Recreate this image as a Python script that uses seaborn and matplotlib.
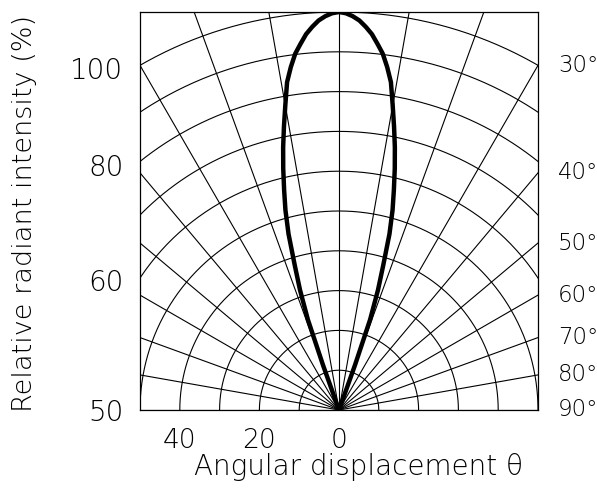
import numpy as np
import pandas as pd
import matplotlib.pyplot as plt
import seaborn as sns

# half of the emission lobe: angle (deg) vs relative radiant intensity (%)
angle_deg = [0, 1, 2, 3, 4, 5, 6, 7, 8, 9, 10, 11, 12, 13, 14, 15, 16, 17, 18,
             19, 19.6, 20]
intensity = [100, 99.7, 99, 98, 96.5, 94.8, 92.5, 90.2, 87, 83.4, 77.7, 72.5,
             67.5, 62.3, 57, 52, 46, 38, 31.7, 24, 12, 0]

grid_angles = list(range(-90, 91, 10))
grid_radii = list(range(10, 101, 10))

ytick_pos = [8.59, 6.16, 3.27, 0]
ytick_labels = ["100", "80", "60", "50"]
xtick_pos = [-4, -2, 0]
xtick_labels = ["40", "20", "0"]
right_angles = [30, 40, 50, 60, 70, 80, 90]

sns.set_style("white")
plt.rcParams["font.family"] = ["DejaVu Sans"]
plt.rcParams["font.weight"] = "light"
plt.rcParams["text.color"] = "black"
plt.rcParams["xtick.color"] = "black"
plt.rcParams["ytick.color"] = "black"

# mirror the half lobe to get the full curve
full_ang = [-a for a in angle_deg[::-1]] + angle_deg[1:]
full_int = intensity[::-1] + intensity[1:]
th = np.radians(full_ang)
r = np.array(full_int) / 10.0
df = pd.DataFrame({"x": r * np.sin(th), "y": r * np.cos(th)})

fig = plt.figure(figsize=(5.97, 5.01), dpi=100)
ax = fig.add_axes([140 / 597, 91 / 501, 398 / 597, 398 / 501])

t = np.radians(np.linspace(-90, 90, 361))
for rad in grid_radii:
    rr = rad / 10.0
    ax.plot(rr * np.sin(t), rr * np.cos(t), color="black", lw=0.8, zorder=1)
for a in grid_angles:
    ar = np.radians(a)
    ax.plot([0, 20 * np.sin(ar)], [0, 20 * np.cos(ar)], color="black", lw=0.8, zorder=1)

sns.lineplot(data=df, x="x", y="y", sort=False, estimator=None,
             color="black", lw=3.2, ax=ax, zorder=3)

ax.set_xlim(-5, 5)
ax.set_ylim(0, 10)
ax.set_xticks(xtick_pos)
ax.set_xticklabels(xtick_labels, fontsize=19, fontweight="light")
ax.set_yticks(ytick_pos)
ax.set_yticklabels(ytick_labels, fontsize=20, fontweight="light")
ax.tick_params(axis="x", length=0, pad=13)
ax.tick_params(axis="y", length=0, pad=12)
ax.set_xlabel("")
ax.set_ylabel("")
for spine in ax.spines.values():
    spine.set_visible(True)
    spine.set_linewidth(0.9)
    spine.set_color("black")

for a in right_angles:
    yy = 0.0 if a == 90 else 5.0 / np.tan(np.radians(a))
    ax.text(1.05, yy, f"{a}°", transform=ax.get_yaxis_transform(),
            ha="left", va="center", fontsize=16.5, fontweight="light")

fig.text(358 / 597, 1 - 467 / 501, "Angular displacement θ", ha="center",
         va="center", fontsize=20, fontweight="light")
fig.text(25 / 597, 1 - 213 / 501, "Relative radiant intensity (%)", ha="center",
         va="center", rotation=90, fontsize=19.5, fontweight="light")

plt.savefig("out.png", dpi=100)
